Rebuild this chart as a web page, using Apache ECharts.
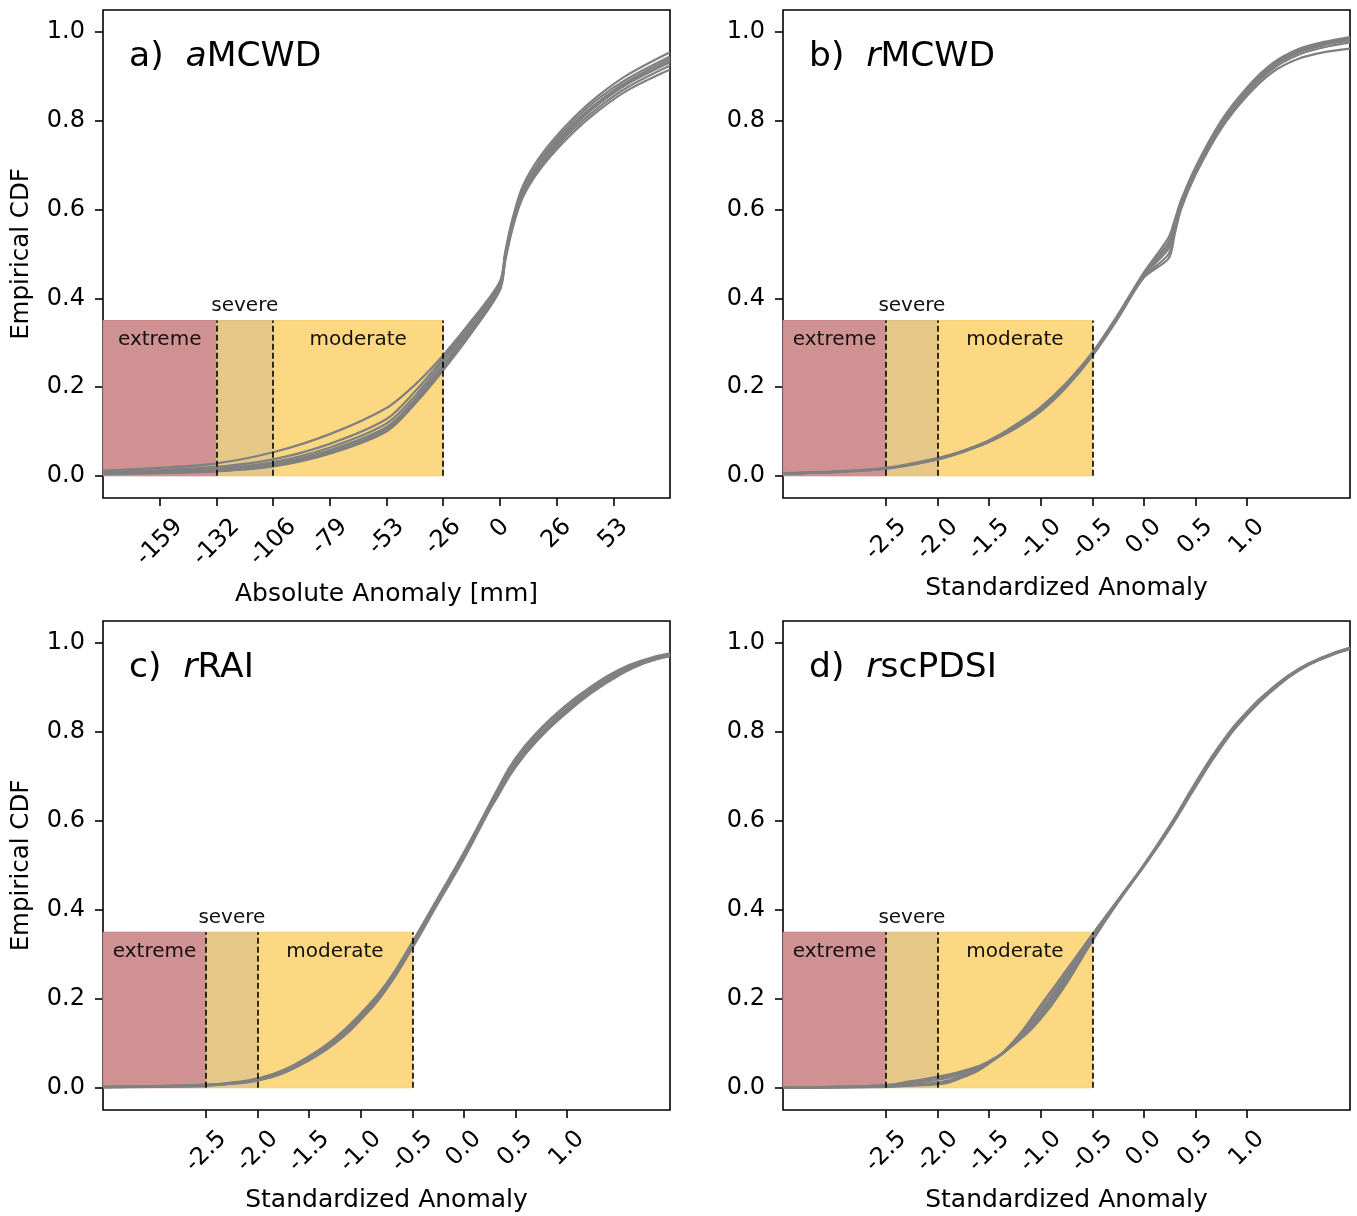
<!DOCTYPE html>
<html>
<head>
<meta charset="utf-8">
<script src="https://cdn.jsdelivr.net/npm/echarts@6/dist/echarts.min.js"></script>
<style>
html,body{margin:0;padding:0;background:#fff;}
#chart{width:1357px;height:1216px;}
</style>
</head>
<body>
<div id="chart"></div>
<script>
// ---------------- DATA ----------------
// Panel a (aMCWD): x in mm
const xA = [-185.5, -159, -132.5, -106, -79.5, -53, -39.75, -26.5, -13.25, 0, 2.5, 5.5, 10, 16, 24, 34, 46, 60, 79.5];
const curvesA = [
  [0.012, 0.018, 0.028, 0.053, 0.094, 0.153, 0.205, 0.272, 0.350, 0.438, 0.505, 0.572, 0.645, 0.700, 0.752, 0.805, 0.857, 0.905, 0.955],
  [0.009, 0.013, 0.020, 0.037, 0.072, 0.128, 0.190, 0.265, 0.345, 0.435, 0.500, 0.566, 0.638, 0.692, 0.745, 0.798, 0.850, 0.896, 0.945],
  [0.007, 0.010, 0.016, 0.031, 0.064, 0.118, 0.180, 0.258, 0.340, 0.430, 0.497, 0.563, 0.635, 0.688, 0.740, 0.792, 0.843, 0.890, 0.940],
  [0.006, 0.009, 0.014, 0.027, 0.058, 0.110, 0.172, 0.250, 0.333, 0.426, 0.492, 0.558, 0.630, 0.683, 0.734, 0.786, 0.837, 0.884, 0.932],
  [0.005, 0.008, 0.012, 0.024, 0.054, 0.104, 0.166, 0.244, 0.328, 0.422, 0.488, 0.553, 0.625, 0.678, 0.728, 0.780, 0.830, 0.877, 0.925],
  [0.004, 0.006, 0.010, 0.021, 0.050, 0.100, 0.162, 0.238, 0.322, 0.418, 0.484, 0.550, 0.620, 0.672, 0.722, 0.773, 0.823, 0.870, 0.916],
  [0.005, 0.007, 0.011, 0.022, 0.052, 0.107, 0.170, 0.248, 0.334, 0.428, 0.495, 0.560, 0.632, 0.686, 0.738, 0.790, 0.840, 0.886, 0.935]
];
// Panel b (rMCWD): standardized x
const xB = [-3.5, -3.0, -2.5, -2.0, -1.75, -1.5, -1.25, -1.0, -0.75, -0.5, -0.25, 0, 0.24, 0.3, 0.36, 0.5, 0.75, 1.0, 1.25, 1.5, 1.75, 2.0];
const curvesB = [
  [0.006, 0.010, 0.018, 0.040, 0.057, 0.080, 0.113, 0.155, 0.210, 0.278, 0.364, 0.458, 0.537, 0.577, 0.620, 0.695, 0.800, 0.875, 0.930, 0.962, 0.978, 0.989],
  [0.005, 0.009, 0.017, 0.039, 0.056, 0.079, 0.112, 0.152, 0.207, 0.275, 0.362, 0.456, 0.527, 0.570, 0.615, 0.690, 0.796, 0.871, 0.926, 0.958, 0.975, 0.985],
  [0.005, 0.009, 0.017, 0.038, 0.055, 0.077, 0.108, 0.148, 0.203, 0.272, 0.358, 0.452, 0.512, 0.562, 0.610, 0.686, 0.791, 0.867, 0.922, 0.954, 0.971, 0.982],
  [0.004, 0.008, 0.016, 0.037, 0.054, 0.076, 0.106, 0.145, 0.200, 0.270, 0.355, 0.448, 0.500, 0.552, 0.605, 0.682, 0.787, 0.862, 0.917, 0.949, 0.966, 0.977],
  [0.005, 0.009, 0.016, 0.037, 0.055, 0.078, 0.110, 0.150, 0.205, 0.273, 0.357, 0.447, 0.490, 0.545, 0.600, 0.678, 0.782, 0.856, 0.910, 0.940, 0.955, 0.963],
  [0.005, 0.009, 0.017, 0.038, 0.056, 0.079, 0.114, 0.153, 0.206, 0.274, 0.360, 0.454, 0.520, 0.565, 0.612, 0.688, 0.793, 0.869, 0.924, 0.956, 0.973, 0.984]
];
// Panel c (rRAI)
const xC = [-3.5, -3.0, -2.5, -2.25, -2.0, -1.75, -1.5, -1.25, -1.0, -0.75, -0.5, -0.25, 0, 0.25, 0.3, 0.5, 0.75, 1.0, 1.25, 1.5, 1.75, 2.0];
const curvesC = [
  [0.002, 0.003, 0.006, 0.011, 0.020, 0.039, 0.070, 0.110, 0.165, 0.233, 0.326, 0.426, 0.527, 0.636, 0.658, 0.738, 0.806, 0.859, 0.903, 0.937, 0.961, 0.975],
  [0.001, 0.003, 0.006, 0.010, 0.019, 0.037, 0.068, 0.108, 0.162, 0.230, 0.322, 0.422, 0.522, 0.632, 0.652, 0.731, 0.800, 0.853, 0.898, 0.933, 0.959, 0.974],
  [0.002, 0.003, 0.005, 0.009, 0.017, 0.035, 0.065, 0.104, 0.157, 0.225, 0.317, 0.418, 0.518, 0.628, 0.647, 0.725, 0.794, 0.848, 0.893, 0.929, 0.956, 0.972],
  [0.001, 0.002, 0.005, 0.009, 0.016, 0.033, 0.062, 0.100, 0.153, 0.222, 0.314, 0.415, 0.515, 0.625, 0.644, 0.721, 0.790, 0.844, 0.890, 0.927, 0.955, 0.971],
  [0.002, 0.003, 0.006, 0.010, 0.018, 0.036, 0.067, 0.107, 0.160, 0.228, 0.320, 0.420, 0.520, 0.630, 0.650, 0.729, 0.798, 0.852, 0.897, 0.932, 0.958, 0.973],
  [0.002, 0.004, 0.007, 0.012, 0.021, 0.040, 0.071, 0.112, 0.167, 0.235, 0.328, 0.428, 0.529, 0.638, 0.660, 0.741, 0.809, 0.862, 0.905, 0.940, 0.963, 0.977]
];
// Panel d (rscPDSI)
const xD = [-3.5, -3.0, -2.5, -2.25, -2.0, -1.75, -1.5, -1.25, -1.0, -0.75, -0.5, -0.25, 0, 0.25, 0.5, 0.75, 1.0, 1.25, 1.5, 1.75, 2.0];
const curvesD = [
  [0.000, 0.002, 0.006, 0.015, 0.025, 0.038, 0.060, 0.100, 0.155, 0.235, 0.330, 0.417, 0.498, 0.585, 0.680, 0.770, 0.842, 0.898, 0.940, 0.968, 0.988],
  [0.000, 0.002, 0.006, 0.014, 0.022, 0.035, 0.058, 0.100, 0.160, 0.240, 0.333, 0.419, 0.500, 0.588, 0.684, 0.773, 0.844, 0.899, 0.941, 0.969, 0.989],
  [0.000, 0.001, 0.003, 0.006, 0.010, 0.026, 0.056, 0.104, 0.170, 0.252, 0.340, 0.420, 0.498, 0.582, 0.676, 0.766, 0.838, 0.894, 0.938, 0.967, 0.987],
  [0.000, 0.001, 0.002, 0.005, 0.008, 0.024, 0.055, 0.106, 0.178, 0.258, 0.343, 0.422, 0.500, 0.584, 0.678, 0.768, 0.839, 0.895, 0.939, 0.967, 0.987],
  [0.000, 0.001, 0.003, 0.007, 0.012, 0.028, 0.057, 0.108, 0.186, 0.265, 0.345, 0.423, 0.502, 0.589, 0.686, 0.775, 0.846, 0.900, 0.942, 0.970, 0.990],
  [0.000, 0.002, 0.005, 0.011, 0.018, 0.032, 0.058, 0.102, 0.165, 0.246, 0.337, 0.420, 0.499, 0.586, 0.681, 0.771, 0.843, 0.898, 0.940, 0.968, 0.988]
];

// thresholds: [left edge, extreme|severe, severe|moderate, moderate right]
const thresholdsMm = [-185.5, -132.5, -106, -26.5];
const thresholdsStd = [-3.5, -2.5, -2.0, -0.5];
const regionTop = 0.35;
const regionNames = ['extreme', 'severe', 'moderate'];

const xRangeA = [-185.5, 79.5];
const xRangeStd = [-3.5, 2.0];
const tickValsA = [-159, -132.5, -106, -79.5, -53, -26.5, 0, 26.5, 53];
const tickLabsA = ['-159', '-132', '-106', '-79', '-53', '-26', '0', '26', '53'];
const tickValsStd = [-2.5, -2.0, -1.5, -1.0, -0.5, 0, 0.5, 1.0];
const tickLabsStd = ['-2.5', '-2.0', '-1.5', '-1.0', '-0.5', '0.0', '0.5', '1.0'];
const yTicks = [0, 0.2, 0.4, 0.6, 0.8, 1.0];
const yRange = [-0.05, 1.05];

const panelLetters = ['a)', 'b)', 'c)', 'd)'];
const panelPrefix = ['a', 'r', 'r', 'r'];
const panelNames = ['MCWD', 'MCWD', 'RAI', 'scPDSI'];
const xTitles = ['Absolute Anomaly [mm]', 'Standardized Anomaly', 'Standardized Anomaly', 'Standardized Anomaly'];
const yTitle = 'Empirical CDF';

// ---------------- STYLE / LAYOUT ----------------
const FONT = 'DejaVu Sans';
const TICK_FS = 24;
const TITLE_FS = 25;
const grids = [
  {left: 103, top: 10, width: 567, height: 488},
  {left: 783, top: 10, width: 567, height: 488},
  {left: 103, top: 621, width: 567, height: 489},
  {left: 783, top: 621, width: 567, height: 489}
];
const colors = {extreme: '#cf9192', severe: '#e5c887', moderate: '#fdd882'};
const borders = {extreme: '#c98283', severe: '#dfc07a', moderate: '#f8cf72'};
const smoothness = [0.3, 0.3, 0.5, 0.5];

const measureCtx = document.createElement('canvas').getContext('2d');
measureCtx.font = TICK_FS + 'px "' + FONT + '"';

function xLabelCfg(vals, labs) {
  const rich = {};
  labs.forEach((t, i) => {
    const w = measureCtx.measureText(t).width;
    rich['p' + i] = {fontSize: TICK_FS, fontFamily: FONT, color: '#000', padding: [w / 2, w / 2, 0, 0]};
  });
  return {
    show: true,
    customValues: vals,
    rotate: 45,
    align: 'center',
    verticalAlign: 'middle',
    margin: 25,
    fontSize: TICK_FS,
    fontFamily: FONT,
    color: '#000',
    rich: rich,
    formatter: function (v) {
      let idx = 0, best = Infinity;
      vals.forEach((tv, i) => { const d = Math.abs(tv - v); if (d < best) { best = d; idx = i; } });
      return '{p' + idx + '|' + labs[idx] + '}';
    }
  };
}

const panels = [
  {x: xA, curves: curvesA, thr: thresholdsMm, range: xRangeA, tv: tickValsA, tl: tickLabsA},
  {x: xB, curves: curvesB, thr: thresholdsStd, range: xRangeStd, tv: tickValsStd, tl: tickLabsStd},
  {x: xC, curves: curvesC, thr: thresholdsStd, range: xRangeStd, tv: tickValsStd, tl: tickLabsStd},
  {x: xD, curves: curvesD, thr: thresholdsStd, range: xRangeStd, tv: tickValsStd, tl: tickLabsStd}
];
const xNameGaps = [84, 78, 78, 78];

const xAxes = [], yAxes = [], series = [], titles = [];
panels.forEach((p, i) => {
  xAxes.push({
    type: 'value', gridIndex: i, min: p.range[0], max: p.range[1], position: 'bottom',
    axisLine: {show: false, onZero: false},
    splitLine: {show: false},
    axisTick: {show: true, customValues: p.tv, length: 8, inside: false, lineStyle: {color: '#000', width: 1.6}},
    axisLabel: xLabelCfg(p.tv, p.tl),
    name: xTitles[i], nameLocation: 'middle', nameGap: xNameGaps[i],
    nameTextStyle: {fontSize: TITLE_FS, fontFamily: FONT, color: '#000'}
  });
  yAxes.push({
    type: 'value', gridIndex: i, min: yRange[0], max: yRange[1], position: 'left',
    axisLine: {show: false, onZero: false},
    splitLine: {show: false},
    axisTick: {show: true, customValues: yTicks, length: 8, inside: false, lineStyle: {color: '#000', width: 1.6}},
    axisLabel: {show: true, customValues: yTicks, margin: 18, fontSize: TICK_FS, fontFamily: FONT, color: '#000',
      formatter: v => v.toFixed(1)},
    name: (i % 2 === 0) ? yTitle : '', nameLocation: 'middle', nameGap: 69, nameRotate: 90,
    nameTextStyle: {fontSize: 24.5, fontFamily: FONT, color: '#000'}
  });
  // shaded drought regions
  const areas = regionNames.map((nm, k) => {
    const lab = nm === 'severe'
      ? {show: true, position: 'top', distance: 4, color: '#111', fontSize: 20, fontFamily: FONT}
      : {show: true, position: 'insideTop', distance: 10, color: '#111', fontSize: 20, fontFamily: FONT};
    return [
      {coord: [p.thr[k], 0], name: nm, itemStyle: {color: colors[nm], opacity: 1, borderColor: borders[nm], borderWidth: 1}, label: lab},
      {coord: [p.thr[k + 1], regionTop]}
    ];
  });
  series.push({
    type: 'line', xAxisIndex: i, yAxisIndex: i, data: [], z: 1, silent: true,
    markArea: {silent: true, data: areas}
  });
  // CDF curves
  p.curves.forEach(c => {
    series.push({
      type: 'line', xAxisIndex: i, yAxisIndex: i, z: 3,
      data: p.x.map((xv, j) => [xv, c[j]]),
      showSymbol: false, symbol: 'none', smooth: smoothness[i],
      lineStyle: {color: '#808080', width: 2.2}, silent: true, animation: false
    });
  });
  // dashed threshold lines
  series.push({
    type: 'line', xAxisIndex: i, yAxisIndex: i, data: [], z: 4, silent: true,
    markLine: {
      silent: true, symbol: ['none', 'none'], label: {show: false}, animation: false,
      lineStyle: {color: '#000', width: 1.6, type: [6, 3]},
      data: p.thr.slice(1).map(t => [{coord: [t, 0]}, {coord: [t, regionTop]}])
    }
  });
  titles.push({
    text: '{n|' + panelLetters[i] + '  }{it|' + panelPrefix[i] + '}{n|' + panelNames[i] + '}',
    left: grids[i].left + 21, top: grids[i].top + 25,
    textStyle: {
      fontWeight: 'normal',
      rich: {
        n: {fontSize: 34.5, fontFamily: FONT, fontWeight: 'normal', color: '#000'},
        it: {fontSize: 34.5, fontFamily: FONT, fontStyle: 'italic', fontWeight: 'normal', color: '#000'}
      }
    }
  });
});

const chart = echarts.init(document.getElementById('chart'), null, {renderer: 'canvas'});
chart.setOption({
  animation: false,
  backgroundColor: '#fff',
  title: titles,
  grid: grids.map(g => Object.assign({show: true, borderColor: '#000', borderWidth: 1.6, backgroundColor: 'transparent', containLabel: false, outerBoundsMode: 'none'}, g)),
  xAxis: xAxes,
  yAxis: yAxes,
  series: series
});
</script>
</body>
</html>
